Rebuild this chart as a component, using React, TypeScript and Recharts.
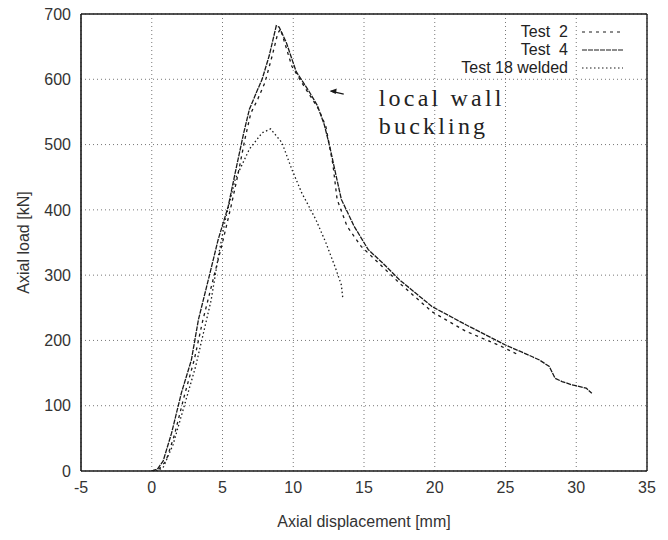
import { CartesianGrid, Legend, Line, LineChart, ReferenceDot, ReferenceLine, XAxis, YAxis } from 'recharts';

// axial displacement [mm] / axial load [kN] per specimen
const test2Disp = [0, 0.5, 1.0, 1.6, 2.3, 3.0, 3.6, 4.3, 5.0, 5.6, 6.1, 6.6, 7.0, 7.5, 8.0, 8.5, 8.9, 9.1, 9.9, 10.6, 11.8, 12.3, 12.8, 13.1, 13.8, 14.8, 16.3, 17.5, 19.8, 22.2, 24.7, 25.9];
const test2Load = [0, 3, 15, 55, 115, 170, 230, 290, 350, 405, 455, 510, 548, 570, 595, 635, 670, 677, 620, 595, 554, 528, 470, 416, 375, 344, 313, 288, 244, 214, 191, 178];

const test4Disp = [0, 0.4, 0.8, 1.4, 2.1, 2.8, 3.3, 4.0, 4.7, 5.4, 5.9, 6.5, 6.9, 7.4, 7.8, 8.3, 8.8, 9.0, 9.5, 10.2, 11.1, 11.7, 12.2, 12.6, 13.0, 13.4, 14.3, 15.3, 16.3, 17.5, 19.8, 22.2, 25.0, 26.9, 27.4, 28.1, 28.5, 29.0, 29.7, 30.7, 31.1];
const test4Load = [0, 3, 15, 58, 120, 170, 232, 293, 355, 405, 457, 518, 554, 580, 600, 636, 682, 680, 657, 612, 582, 560, 530, 495, 455, 416, 375, 339, 319, 293, 252, 224, 193, 175, 170, 160, 142, 137, 132, 127, 119];

const test18Disp = [0.3, 0.8, 1.5, 2.3, 3.1, 4.2, 4.7, 5.2, 5.9, 6.9, 7.8, 8.4, 9.2, 9.9, 10.6, 11.6, 12.3, 13.0, 13.4, 13.5];
const test18Load = [0, 5, 40, 100, 160, 262, 328, 385, 447, 493, 518, 524, 503, 462, 426, 385, 350, 310, 285, 265];

const xTicks = [-5, 0, 5, 10, 15, 20, 25, 30, 35];
const yTicks = [0, 100, 200, 300, 400, 500, 600, 700];

const toPoints = (xs: number[], ys: number[]) => xs.map((x, i) => ({ x, y: ys[i] }));

const series = [
  { name: 'Test 2', data: toPoints(test2Disp, test2Load), dash: '3 4' },
  { name: 'Test 4', data: toPoints(test4Disp, test4Load), dash: '5 1' },
  { name: 'Test 18 welded', data: toPoints(test18Disp, test18Load), dash: '1.5 2.5' },
];

const INK = '#1a1a1a';
const SANS = '"Liberation Sans", Arial, sans-serif';
const tickStyle = { fontFamily: SANS, fontSize: 16, fill: '#333' };

function LegendBox() {
  return (
    <div style={{ fontFamily: SANS, fontSize: 16, color: '#222' }}>
      {series.map((s) => (
        <div key={s.name} style={{ display: 'flex', alignItems: 'center', justifyContent: 'flex-end', height: 18 }}>
          <span style={{ whiteSpace: 'pre' }}>{s.name === 'Test 2' || s.name === 'Test 4' ? s.name.replace(' ', '  ') : s.name}</span>
          <svg width={41} height={6} style={{ marginLeft: 14 }}>
            <line x1={0} y1={3} x2={41} y2={3} stroke={INK} strokeWidth={1.2} strokeDasharray={s.dash} />
          </svg>
        </div>
      ))}
    </div>
  );
}

// arrow + note pointing at the buckling shoulder
function BucklingNote(props: { cx?: number; cy?: number }) {
  const { cx = 0, cy = 0 } = props;
  const font = { fontFamily: '"Liberation Serif", "DejaVu Serif", serif', fontSize: 24, letterSpacing: 3.2, fill: '#222' };
  return (
    <g>
      <line x1={cx} y1={cy} x2={cx + 13} y2={cy + 3} stroke={INK} strokeWidth={1.3} />
      <path d={`M ${cx - 1} ${cy} L ${cx + 6} ${cy - 2.5} L ${cx + 5} ${cy + 3} Z`} fill={INK} />
      <text x={cx + 48} y={cy + 15} {...font}>local wall</text>
      <text x={cx + 48} y={cy + 43} {...font}>buckling</text>
    </g>
  );
}

export default function App() {
  return (
    <div style={{ position: 'absolute', left: 0, top: 0, background: '#fff' }}>
      <LineChart width={668} height={540} margin={{ top: 14, right: 21, left: 0, bottom: 0 }}>
        <CartesianGrid stroke="#777" strokeDasharray="1 3" />
        <XAxis
          type="number"
          dataKey="x"
          domain={[-5, 35]}
          ticks={xTicks}
          allowDataOverflow
          height={69}
          tickSize={0}
          tickMargin={11}
          tick={tickStyle}
          axisLine={{ stroke: INK, strokeWidth: 1.6 }}
          label={{ value: 'Axial displacement [mm]', position: 'insideBottom', offset: 13, style: tickStyle }}
        />
        <YAxis
          type="number"
          dataKey="y"
          domain={[0, 700]}
          ticks={yTicks}
          allowDataOverflow
          width={81}
          tickSize={0}
          tickMargin={10}
          tick={tickStyle}
          axisLine={{ stroke: INK, strokeWidth: 1.6 }}
          label={{
            content: ({ viewBox }: any) => {
              const x = viewBox.x + 23;
              const y = viewBox.y + viewBox.height / 2;
              return (
                <text x={x} y={y} transform={`rotate(-90 ${x} ${y})`} textAnchor="middle" dominantBaseline="central" style={tickStyle}>
                  Axial load [kN]
                </text>
              );
            },
          }}
        />
        <ReferenceLine y={700} stroke={INK} strokeWidth={1.4} />
        <ReferenceLine x={35} stroke={INK} strokeWidth={1.4} />
        {series.map((s) => (
          <Line
            key={s.name}
            data={s.data}
            dataKey="y"
            name={s.name}
            type="linear"
            stroke={INK}
            strokeWidth={1.3}
            strokeDasharray={s.dash}
            dot={false}
            isAnimationActive={false}
          />
        ))}
        <ReferenceDot x={12.65} y={582} r={0} shape={(p: any) => <BucklingNote cx={p.cx} cy={p.cy} />} />
        <Legend
          layout="vertical"
          align="center"
          verticalAlign="middle"
          wrapperStyle={{ top: 23, right: 45, left: 'auto', width: 'auto' }}
          content={() => <LegendBox />}
        />
      </LineChart>
    </div>
  );
}
